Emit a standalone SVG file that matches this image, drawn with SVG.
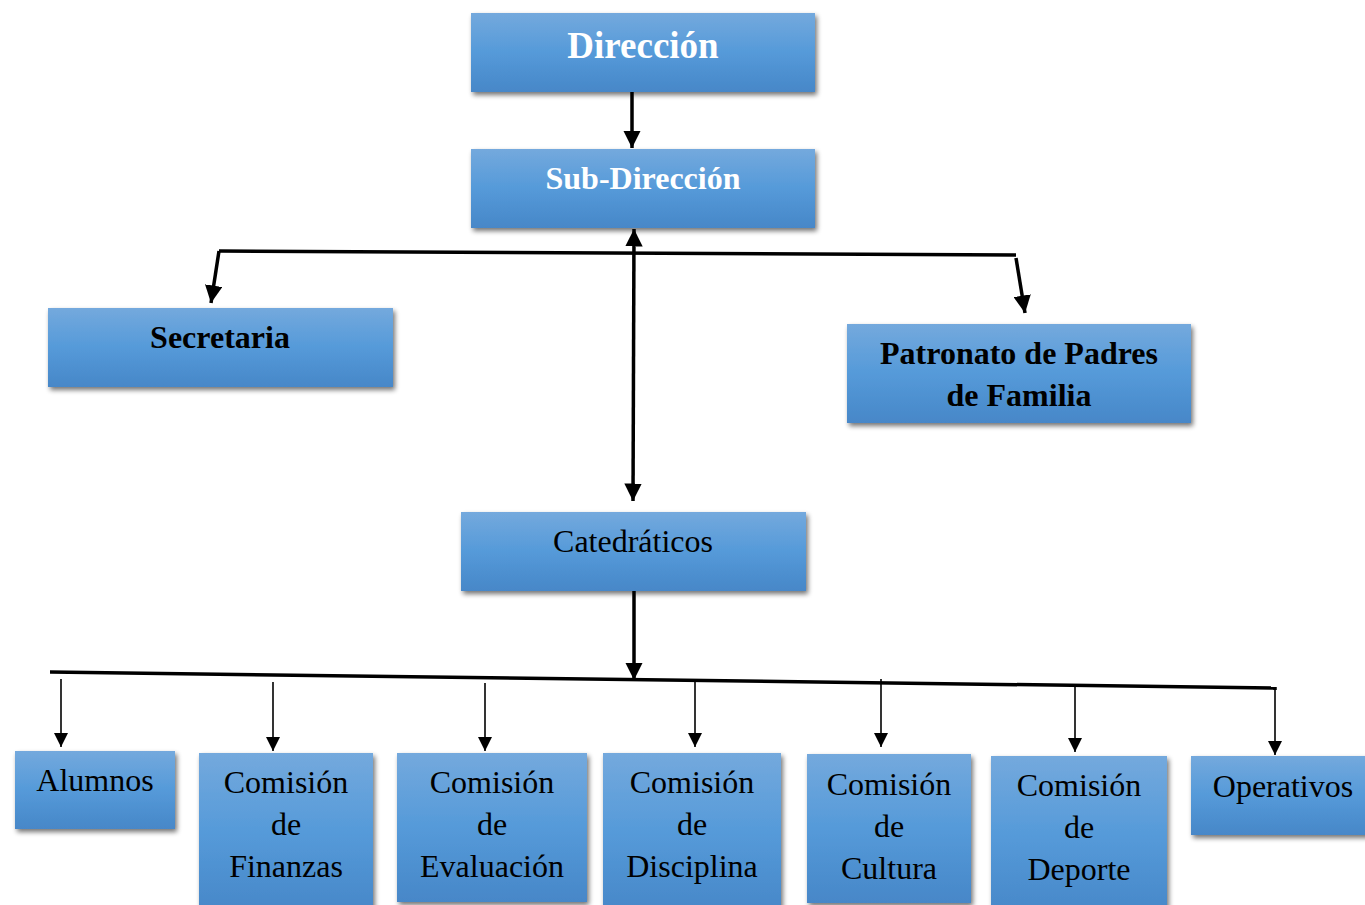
<svg xmlns="http://www.w3.org/2000/svg" width="1365" height="905" viewBox="0 0 1365 905">
<defs>
<linearGradient id="g" x1="0" y1="0" x2="0" y2="1">
<stop offset="0" stop-color="#74a9dd"/>
<stop offset="0.5" stop-color="#559ad9"/>
<stop offset="1" stop-color="#4787c8"/>
</linearGradient>
<filter id="sh" x="-10%" y="-10%" width="125%" height="125%">
<feGaussianBlur in="SourceAlpha" stdDeviation="2.5"/>
<feOffset dx="2" dy="3" result="b"/>
<feComponentTransfer><feFuncA type="linear" slope="0.55"/></feComponentTransfer>
<feMerge><feMergeNode/><feMergeNode in="SourceGraphic"/></feMerge>
</filter>
<marker id="ah" viewBox="0 0 10 10" refX="10" refY="5" markerWidth="5" markerHeight="5" markerUnits="strokeWidth" orient="auto-start-reverse">
<path d="M0,0 L10,5 L0,10 z" fill="#000"/>
</marker>
<marker id="ahs" viewBox="0 0 10 10" refX="10" refY="5" markerWidth="9" markerHeight="9" markerUnits="strokeWidth" orient="auto">
<path d="M0,0 L10,5 L0,10 z" fill="#000"/>
</marker>
</defs>
<style>
.box{fill:url(#g);filter:url(#sh);}
.t{font-family:"Liberation Serif","Times New Roman",serif;text-anchor:middle;}
.w{fill:#fff;font-weight:bold;}
.b{fill:#000;font-weight:bold;font-size:32px;}
.n{fill:#000;font-size:32px;}
.thick{stroke:#000;stroke-width:3.5;fill:none;}
.thin{stroke:#000;stroke-width:1.6;fill:none;}
</style>
<rect width="1365" height="905" fill="#fff"/>
<g id="connectors">
<line class="thick" x1="632" y1="92" x2="632" y2="148" marker-end="url(#ah)"/>
<line class="thick" x1="633" y1="501" x2="634" y2="229" marker-start="url(#ah)" marker-end="url(#ah)"/>
<polyline class="thick" points="219,251 1016,255"/>
<line class="thick" x1="219" y1="251" x2="211" y2="303" marker-end="url(#ah)"/>
<line class="thick" x1="1016" y1="258" x2="1025" y2="313" marker-end="url(#ah)"/>
<line class="thick" x1="634" y1="591" x2="634" y2="680" marker-end="url(#ah)"/>
<line class="thick" x1="50" y1="672" x2="1276" y2="688"/>
<line class="thick" x1="1275" y1="687" x2="1275" y2="690"/>
<line class="thin" x1="61" y1="679" x2="61" y2="747" marker-end="url(#ahs)"/>
<line class="thin" x1="273" y1="682" x2="273" y2="751" marker-end="url(#ahs)"/>
<line class="thin" x1="485" y1="683" x2="485" y2="751" marker-end="url(#ahs)"/>
<line class="thin" x1="695" y1="679" x2="695" y2="747" marker-end="url(#ahs)"/>
<line class="thin" x1="881" y1="679" x2="881" y2="747" marker-end="url(#ahs)"/>
<line class="thin" x1="1075" y1="686" x2="1075" y2="752" marker-end="url(#ahs)"/>
<line class="thin" x1="1275" y1="688" x2="1275" y2="755" marker-end="url(#ahs)"/>
</g>
<g id="direccion"><rect class="box" x="471" y="13" width="344" height="79"/><text class="t w" x="643" y="58" font-size="37">Dirección</text></g>
<g id="subdireccion"><rect class="box" x="471" y="149" width="344" height="79"/><text class="t w" x="643" y="189" font-size="32">Sub-Dirección</text></g>
<g id="secretaria"><rect class="box" x="48" y="308" width="345" height="79"/><text class="t b" x="220" y="348">Secretaria</text></g>
<g id="patronato"><rect class="box" x="847" y="324" width="344" height="99"/><text class="t b" x="1019" y="364">Patronato de Padres</text><text class="t b" x="1019" y="406">de Familia</text></g>
<g id="catedraticos"><rect class="box" x="461" y="512" width="345" height="79"/><text class="t n" x="633" y="552">Catedráticos</text></g>
<g id="alumnos"><rect class="box" x="15" y="751" width="160" height="78"/><text class="t n" x="95" y="791">Alumnos</text></g>
<g id="finanzas"><rect class="box" x="199" y="753" width="174" height="160"/><text class="t n" x="286" y="793">Comisión</text><text class="t n" x="286" y="835">de</text><text class="t n" x="286" y="877">Finanzas</text></g>
<g id="evaluacion"><rect class="box" x="397" y="753" width="190" height="149"/><text class="t n" x="492" y="793">Comisión</text><text class="t n" x="492" y="835">de</text><text class="t n" x="492" y="877">Evaluación</text></g>
<g id="disciplina"><rect class="box" x="603" y="753" width="178" height="160"/><text class="t n" x="692" y="793">Comisión</text><text class="t n" x="692" y="835">de</text><text class="t n" x="692" y="877">Disciplina</text></g>
<g id="cultura"><rect class="box" x="807" y="754" width="164" height="149"/><text class="t n" x="889" y="795">Comisión</text><text class="t n" x="889" y="837">de</text><text class="t n" x="889" y="879">Cultura</text></g>
<g id="deporte"><rect class="box" x="991" y="756" width="176" height="160"/><text class="t n" x="1079" y="796">Comisión</text><text class="t n" x="1079" y="838">de</text><text class="t n" x="1079" y="880">Deporte</text></g>
<g id="operativos"><rect class="box" x="1191" y="756" width="180" height="79"/><text class="t n" x="1283" y="797">Operativos</text></g>
</svg>
